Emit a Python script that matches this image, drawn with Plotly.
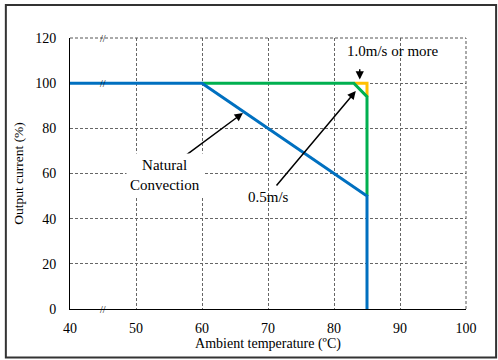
import plotly.graph_objects as go

# derating curves: ambient temperature (C) vs output current (%)
naturalTemp = [40, 60, 85, 85]
naturalCurrent = [100, 100, 50, 0]
halfTemp = [60, 83, 85, 85]
halfCurrent = [100, 100, 94, 50]
fullTemp = [83, 85, 85]
fullCurrent = [100, 100, 94]

xTicks = [40, 50, 60, 70, 80, 90, 100]
yTicks = [0, 20, 40, 60, 80, 100, 120]

serif = "Liberation Serif"

fig = go.Figure()
fig.add_trace(go.Scatter(x=fullTemp, y=fullCurrent, mode="lines",
                         line=dict(color="#FFC000", width=3), name="1.0m/s or more"))
fig.add_trace(go.Scatter(x=halfTemp, y=halfCurrent, mode="lines",
                         line=dict(color="#00B050", width=3), name="0.5m/s"))
fig.add_trace(go.Scatter(x=naturalTemp, y=naturalCurrent, mode="lines",
                         line=dict(color="#0070C0", width=3), name="Natural Convection"))

arrowStyle = dict(showarrow=True, arrowhead=2, arrowsize=1.1, arrowwidth=1.5,
                  arrowcolor="black", axref="x", ayref="y", text="")
fig.add_annotation(x=83.9, y=101.6, ax=83.9, ay=106.8, **arrowStyle)
fig.add_annotation(x=66.2, y=86.8, ax=57.0, ay=66.9, **arrowStyle)
fig.add_annotation(x=83.3, y=96.5, ax=71.1, ay=54.0, **arrowStyle)

labelFont = dict(family=serif, size=15, color="black")
fig.add_annotation(x=88.9, y=114.3, text="1.0m/s or more", showarrow=False, font=labelFont)
fig.add_annotation(x=54.4, y=59.3, text="Natural<br>Convection", showarrow=False,
                   font=labelFont, bgcolor="white", borderpad=3)
fig.add_annotation(x=70.0, y=49.6, text="0.5m/s", showarrow=False, font=labelFont)

# axis break marks
for yb in [120, 100, 0]:
    fig.add_annotation(x=45, y=yb, text="//", showarrow=False,
                       font=dict(family=serif, size=10, color="black"))

# dashed top and right edges of the plot area
edgeStyle = dict(color="#555555", width=1, dash="3px,2px")
fig.add_shape(type="line", xref="paper", yref="paper", x0=0, x1=1, y0=1, y1=1, line=edgeStyle)
fig.add_shape(type="line", xref="paper", yref="paper", x0=1, x1=1, y0=0, y1=1, line=edgeStyle)

# outer frame
fig.add_shape(type="rect", xref="paper", yref="paper", x0=-0.162, x1=1.076,
              y0=-0.179, y1=1.122, line=dict(color="#333333", width=2))

gridStyle = dict(showgrid=True, gridcolor="#666666", griddash="3px,2px", gridwidth=1)
fig.update_xaxes(range=[40, 100], tickvals=xTicks, **gridStyle,
                 showline=True, linecolor="black", linewidth=1, zeroline=False,
                 ticks="", ticklabelstandoff=6, automargin=False,
                 tickfont=dict(family=serif, size=14, color="black"),
                 title=dict(text="Ambient temperature (ºC)", standoff=3,
                            font=dict(family=serif, size=14, color="black")))
fig.update_yaxes(range=[0, 120], tickvals=yTicks, **gridStyle,
                 showline=True, linecolor="black", linewidth=1, zeroline=False,
                 ticks="", ticklabelstandoff=10, automargin=False,
                 tickfont=dict(family=serif, size=14, color="black"),
                 title=dict(text="Output current (%)", standoff=8,
                            font=dict(family=serif, size=13.5, color="black")))

fig.update_layout(width=498, height=360, showlegend=False,
                  paper_bgcolor="white", plot_bgcolor="white",
                  margin=dict(l=70, r=32, t=38, b=51))

fig.write_html("out.html", config={"displayModeBar": False},
               post_script="document.body.style.margin='0';")
